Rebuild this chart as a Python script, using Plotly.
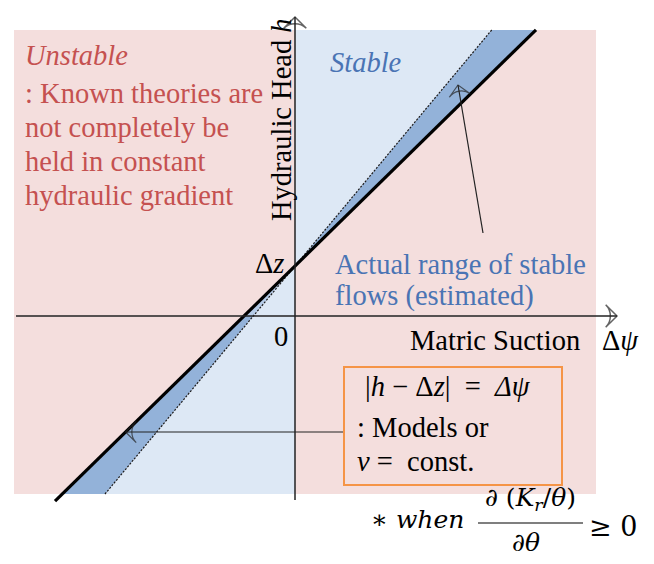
import plotly.graph_objects as go

# ---- conceptual data (units: Δψ along x, h along y) ----
DZ = 50                    # Δz : head at zero matric suction
SLOPE_MODEL = 0.98         # thick line  |h - Δz| = Δψ
SLOPE_BOUND = 1.2          # dotted upper bound of stable flows
FRAME_PSI = [-281, 301]    # shaded diagram frame
FRAME_H = [-178, 286]
MODEL_PSI = [-240, 241]    # extent of the model line
AXIS_PSI = [-279, 322]     # matric-suction axis extent
AXIS_H = [-184, 299]       # hydraulic-head axis extent

PINK = "#f4dedd"
LIGHT_BLUE = "#dde8f5"
BAND_BLUE = "#93b2d9"
WEDGE_BLUE = "#b6cce8"
RED_TXT = "#c55150"
BLUE_TXT = "#4a74b4"
ORANGE = "#f59446"
SERIF = '"Liberation Serif", "Times New Roman", Times, serif'
MATH = '"DejaVu Serif", serif'


def model_h(p):
    return DZ + SLOPE_MODEL * p


def model_psi(h):
    return (h - DZ) / SLOPE_MODEL


def bound_psi(h):
    return (h - DZ) / SLOPE_BOUND


h_top, h_bot = FRAME_H[1], FRAME_H[0]

fig = go.Figure()


def poly(xs, ys, color):
    fig.add_trace(go.Scatter(x=xs + [xs[0]], y=ys + [ys[0]], mode="lines",
                             fill="toself", fillcolor=color,
                             line=dict(width=0, color=color),
                             hoverinfo="skip", showlegend=False))


# frame (unstable region)
poly([FRAME_PSI[0], FRAME_PSI[1], FRAME_PSI[1], FRAME_PSI[0]],
     [h_bot, h_bot, h_top, h_top], PINK)
# stable regions
poly([0, 0, bound_psi(h_top)], [DZ, h_top, h_top], LIGHT_BLUE)
poly([0, 0, bound_psi(h_bot)], [DZ, h_bot, h_bot], LIGHT_BLUE)
# actual range of stable flows (band between model line and bound)
poly([0, bound_psi(h_top), model_psi(h_top)], [DZ, h_top, h_top], BAND_BLUE)
poly([model_psi(0), model_psi(h_bot), bound_psi(h_bot), bound_psi(0)],
     [0, h_bot, h_bot, 0], BAND_BLUE)
poly([0, model_psi(0), bound_psi(0)], [DZ, 0, 0], WEDGE_BLUE)

# dotted bound line
fig.add_trace(go.Scatter(x=[bound_psi(h_bot), bound_psi(h_top)], y=[h_bot, h_top],
                         mode="lines", line=dict(color="#1a1a1a", width=1.2, dash="2px,1.5px"),
                         hoverinfo="skip", showlegend=False))
# model line
fig.add_trace(go.Scatter(x=MODEL_PSI, y=[model_h(p) for p in MODEL_PSI],
                         mode="lines", line=dict(color="black", width=3.2),
                         hoverinfo="skip", showlegend=False))


def arrow(x0, y0, x1, y1, width=1.3, size=13):
    fig.add_trace(go.Scatter(
        x=[x0, x1], y=[y0, y1], mode="lines+markers",
        line=dict(color="#222222", width=width),
        marker=dict(symbol=["circle", "arrow-wide-open"], size=[0, size],
                    angleref="previous", color="#222222",
                    line=dict(color="#222222", width=width)),
        hoverinfo="skip", showlegend=False))


# axes
arrow(AXIS_PSI[0], 0, AXIS_PSI[1], 0, width=1.5, size=16)
arrow(0, AXIS_H[0], 0, AXIS_H[1], width=1.5, size=16)
# pointer arrows
BOX_PSI = [49, 267]
BOX_H = [-169, -51]
arrow(188, 83, 163, 231, width=1.2, size=15)
arrow(BOX_PSI[0], -116, model_psi(-116), -116, width=1.2, size=15)

FRACTION_PSI = [183, 288]
FRACTION_H = -207
shapes = [
    dict(type="rect", xref="x", yref="y", x0=BOX_PSI[0], x1=BOX_PSI[1],
         y0=BOX_H[0], y1=BOX_H[1], line=dict(color=ORANGE, width=2)),
    dict(type="line", xref="x", yref="y", x0=FRACTION_PSI[0], x1=FRACTION_PSI[1],
         y0=FRACTION_H, y1=FRACTION_H, line=dict(color="black", width=1.2)),
]

anns = []


def txt(x, y, s, color="black", size=28.5, xanchor="left", font=SERIF, angle=0):
    anns.append(dict(x=x, y=y, xref="x", yref="y", text=s, showarrow=False,
                     xanchor=xanchor, yanchor="middle", textangle=angle,
                     font=dict(family=font, size=size, color=color)))


txt(-272, 261, "<i>Unstable</i>", RED_TXT)
txt(-272, 223, ": Known theories are", RED_TXT)
txt(-272, 189, "not completely be", RED_TXT)
txt(-272, 155, "held in constant", RED_TXT)
txt(-272, 121, "hydraulic gradient", RED_TXT)
txt(33, 254, "<i>Stable</i>", BLUE_TXT)
txt(-14, 196, "Hydraulic Head <i>h</i>", angle=-90, xanchor="center")
txt(-9, 53, "Δ<i>z</i>", xanchor="right")
txt(38, 52, "Actual range of stable", BLUE_TXT)
txt(38, 20, "flows (estimated)", BLUE_TXT)
txt(-14, -20, "0", xanchor="center")
txt(113, -24, "Matric Suction")
txt(305, -24, "Δ<i>ψ</i>")
txt(68, -70, "|<i>h</i> − Δ<i>z</i>|  =  <i>Δψ</i>")
txt(60, -111, ": Models or")
txt(60, -145, "<i>v</i> =  const.")
txt(74, -203, "∗ <i>when</i>", size=25, font=MATH)
txt(235, -183, "∂ (<i>K<sub>r</sub></i>/<i>θ</i>)", size=25, font=MATH, xanchor="center")
txt(231, -226, "∂<i>θ</i>", size=25, font=MATH, xanchor="center")
txt(292, -210, "≥ 0", size=27, font=MATH)

# the page has an 8px body margin, so the figure is 8px smaller than the window
fig.update_layout(
    width=646, height=556,
    margin=dict(l=0, r=0, t=0, b=0),
    paper_bgcolor="white", plot_bgcolor="white",
    xaxis=dict(range=[-287, 359], visible=False, fixedrange=True),
    yaxis=dict(range=[-248, 308], visible=False, fixedrange=True),
    shapes=shapes, annotations=anns, showlegend=False, hovermode=False,
)

fig.write_html("out.html")
